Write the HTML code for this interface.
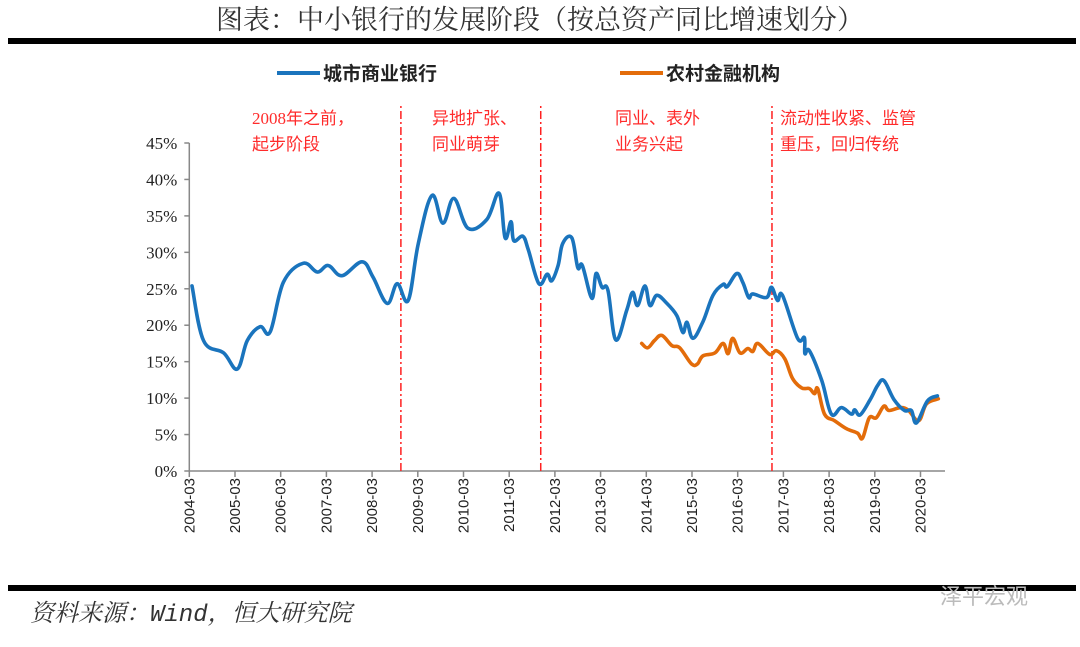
<!DOCTYPE html>
<html><head><meta charset="utf-8"><style>
body{margin:0;background:#fff;width:1080px;height:642px;overflow:hidden;font-family:"Liberation Serif","Noto Serif CJK SC",serif}
</style></head><body>
<svg width="1080" height="642" viewBox="0 0 1080 642">
<text x="540" y="29" text-anchor="middle" font-size="27" fill="#333" font-family="'Noto Serif CJK SC',serif">图表：中小银行的发展阶段（按总资产同比增速划分）</text>
<rect x="8" y="38" width="1068" height="6" fill="#000"/>
<g>
<line x1="277" y1="73" x2="320" y2="73" stroke="#1a74bd" stroke-width="4"/>
<text x="323" y="80" font-size="19" font-weight="bold" font-family="'Noto Sans CJK SC',sans-serif" fill="#222">城市商业银行</text>
<line x1="620" y1="73" x2="663" y2="73" stroke="#e36c0a" stroke-width="4"/>
<text x="666" y="80" font-size="19" font-weight="bold" font-family="'Noto Sans CJK SC',sans-serif" fill="#222">农村金融机构</text>
</g>
<g id="plot"></g>
<rect x="8" y="585" width="1068" height="6" fill="#000"/>
<text x="30" y="621" font-size="24" font-style="italic" fill="#333" font-family="'Liberation Mono','Noto Serif CJK SC',serif">资料来源：Wind，恒大研究院</text>
<text x="940" y="604" font-size="22" fill="#bbb" font-family="'Noto Sans CJK SC',sans-serif">泽平宏观</text>
</svg>
<script>
const yTicks=[0,5,10,15,20,25,30,35,40,45];
const xLabels=["2004-03","2005-03","2006-03","2007-03","2008-03","2009-03","2010-03","2011-03","2012-03","2013-03","2014-03","2015-03","2016-03","2017-03","2018-03","2019-03","2020-03"];
const cityT=[0.06,0.31,0.75,1.05,1.27,1.55,1.77,2.06,2.49,2.8,3.04,3.34,3.78,4.02,4.33,4.55,4.79,5.01,5.31,5.55,5.79,6.1,6.51,6.78,6.91,7.04,7.1,7.3,7.42,7.65,7.83,7.93,8.07,8.17,8.37,8.5,8.6,8.81,8.9,9.03,9.16,9.33,9.57,9.7,9.81,9.97,10.08,10.23,10.45,10.67,10.8,10.89,11.02,11.24,11.46,11.68,11.77,11.98,12.11,12.24,12.33,12.63,12.74,12.87,12.98,13.31,13.46,13.47,13.57,13.84,14.05,14.27,14.49,14.56,14.68,14.9,15.06,15.2,15.42,15.65,15.8,15.91,16.15,16.37];
const cityV=[25.4,17.9,16.2,14.0,17.9,19.8,19.1,25.9,28.5,27.3,28.2,26.8,28.7,26.6,23.0,25.7,23.4,31.2,37.8,34.0,37.4,33.3,34.5,38.1,32.0,34.2,31.6,32.2,30.3,25.7,27.0,26.1,28.2,31.2,32.0,27.9,28.2,23.7,27.1,25.2,24.8,18.0,22.0,24.5,22.7,25.4,22.7,24.1,23.0,21.3,19.0,20.4,18.2,20.5,24.1,25.6,25.3,27.1,25.9,23.8,24.3,23.8,25.2,23.4,24.1,18.2,18.3,16.1,16.5,12.4,7.8,8.7,7.8,8.4,7.7,9.8,11.7,12.4,9.8,8.3,8.3,6.6,9.6,10.3];
const ruralT=[9.9,10.03,10.18,10.34,10.56,10.73,10.99,11.12,11.24,11.5,11.68,11.79,11.89,12.05,12.22,12.33,12.44,12.7,12.85,13.03,13.2,13.4,13.57,13.68,13.75,13.9,14.12,14.38,14.62,14.73,14.88,15.03,15.2,15.31,15.57,15.74,15.96,16.13,16.39];
const ruralV=[17.5,16.9,17.9,18.6,17.2,16.9,14.7,14.7,15.8,16.2,17.5,16.1,18.2,16.2,16.8,16.4,17.5,16.0,16.5,15.4,12.7,11.4,11.3,10.6,11.3,7.8,6.9,5.8,5.2,4.5,7.3,7.3,8.9,8.3,8.7,8.3,6.9,9.2,9.9];
const phases=[4.63,7.69,12.75];
const NS="http://www.w3.org/2000/svg";
const g=document.getElementById('plot');
const X0=189.3,PX=45.7,Y0=471,PY=(471-143)/45;
const xs=t=>X0+t*PX, ys=v=>Y0-v*PY;
function mk(tag,attrs,parent){const e=document.createElementNS(NS,tag);for(const k in attrs)e.setAttribute(k,attrs[k]);(parent||g).appendChild(e);return e;}
let e=mk('line',{x1:X0,y1:ys(45),x2:X0,y2:Y0,stroke:'#888','stroke-width':1.5});


e=mk('line',{x1:X0,y1:Y0,x2:945,y2:Y0,stroke:'#888','stroke-width':1.5});


yTicks.forEach(v=>{
 let l=mk('line',{x1:X0-5,y1:ys(v),x2:X0,y2:ys(v),stroke:'#888','stroke-width':1.5});
 
 
 let t=mk('text',{x:X0-12,y:ys(v)+6,'text-anchor':'end','font-size':17,fill:'#222'});
 t.textContent=v+'%';
 
 
});
xLabels.forEach((s,i)=>{
 const x=xs(i);
 let l=mk('line',{x1:x,y1:Y0,x2:x,y2:Y0+6,stroke:'#888','stroke-width':1.5});
 
 
 let t=mk('text',{x:0,y:0,'font-size':15,fill:'#222','text-anchor':'end',transform:`translate(${x+5},478) rotate(-90)`,'font-family':'Liberation Sans,sans-serif'});
 t.textContent=s;
 
 
});
phases.forEach(p=>{
 let l=mk('line',{x1:xs(p),y1:Y0,x2:xs(p),y2:103,stroke:'#ff2020','stroke-width':1.5,'stroke-dasharray':'8 3 2 3'});
 
 
});
const notes=[[252,["2008年之前，","起步阶段"]],[432,["异地扩张、","同业萌芽"]],[615,["同业、表外","业务兴起"]],[780,["流动性收紧、监管","重压，回归传统"]]];
notes.forEach(n=>{n[1].forEach((s,i)=>{
 let t=mk('text',{x:n[0],y:124+i*26,'font-size':17,fill:'#ff2b2b','font-family':"'Liberation Serif','Noto Sans CJK SC',sans-serif"});
 t.textContent=s;
 
 
});});
function series(T,V,c,name){
 const P=T.map((t,i)=>[xs(t),ys(V[i])]);
 let d='M'+P[0][0].toFixed(1)+','+P[0][1].toFixed(1);
 for(let i=0;i<P.length-1;i++){
  const p0=P[Math.max(0,i-1)],p1=P[i],p2=P[i+1],p3=P[Math.min(P.length-1,i+2)];
  const k=0.18;
  const c1=[p1[0]+(p2[0]-p0[0])*k,p1[1]+(p2[1]-p0[1])*k];
  const c2=[p2[0]-(p3[0]-p1[0])*k,p2[1]-(p3[1]-p1[1])*k];
  d+='C'+c1.map(v=>v.toFixed(1)).join(',')+' '+c2.map(v=>v.toFixed(1)).join(',')+' '+p2.map(v=>v.toFixed(1)).join(',');
 }
 let p=mk('path',{d:d,fill:'none',stroke:c,'stroke-width':3.6,'stroke-linejoin':'round','stroke-linecap':'round'});
 
 
}
series(ruralT,ruralV,'#e36c0a','rural-line');
series(cityT,cityV,'#1a74bd','city-bank-line');
</script>
</body></html>
